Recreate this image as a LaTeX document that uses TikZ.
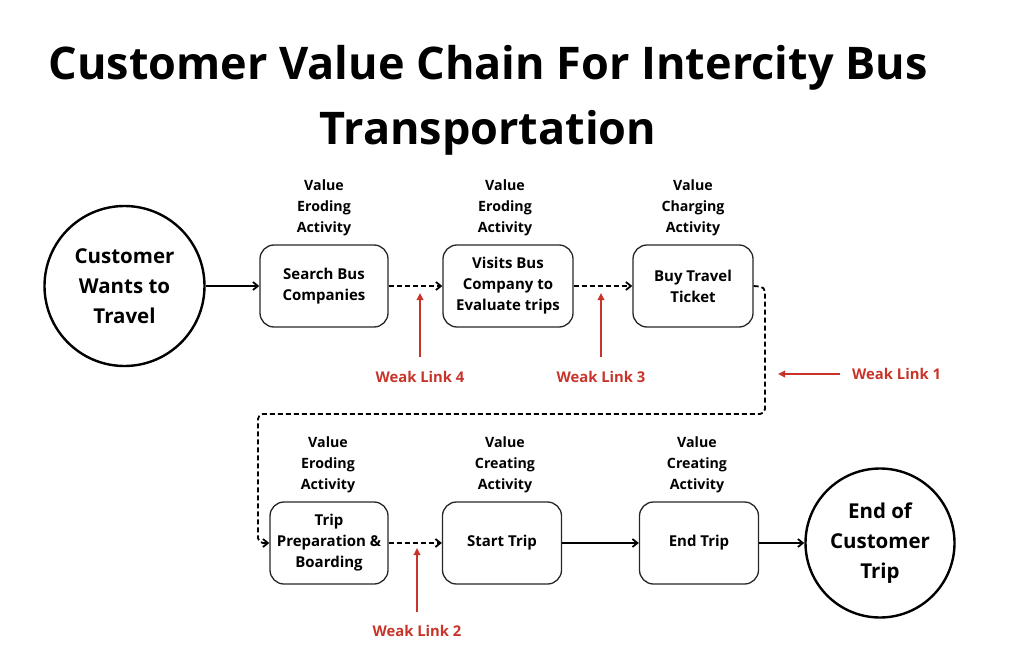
\documentclass[tikz,border=0pt]{standalone}
\usepackage{fontspec}
\setmainfont{Open Sans}
\usetikzlibrary{arrows.meta,positioning}
\definecolor{wred}{RGB}{200,52,42}
\tikzset{
  x=1pt,y=-1pt,
  act/.style={draw=black!85,line width=1.3pt,rounded corners=14pt,align=center,font=\bfseries\fontsize{15}{21}\selectfont,inner sep=0pt},
  circ/.style={draw=black,line width=2.4pt,circle,align=center,font=\bfseries\fontsize{20.5}{30}\selectfont,inner sep=0pt},
  lab/.style={align=center,font=\bfseries\fontsize{14.2}{21}\selectfont,inner sep=0pt},
  weak/.style={text=wred,font=\bfseries\fontsize{14.8}{17}\selectfont,inner sep=0pt},
  flow/.style={line width=1.8pt,-{Straight Barb[length=5pt,width=8pt]}},
  dflow/.style={flow,dash pattern=on 5pt off 3pt},
  warr/.style={wred,line width=1.8pt,-{Triangle[length=7pt,width=6.5pt]}}
}
\begin{document}
\begin{tikzpicture}
\useasboundingbox (0,0) rectangle (1024,647);
% title
\node[font=\bfseries\fontsize{45}{50}\selectfont,inner sep=0pt] (t1) at (488,68) {Customer Value Chain For Intercity Bus};
\node[font=\bfseries\fontsize{45}{50}\selectfont,inner sep=0pt] (t2) at (488,133) {Transportation};
% circles
\node[circ,minimum size=160pt] (c1) at (124.5,286) {Customer\\Wants to\\Travel};
\node[circ,minimum size=149pt] (c2) at (880,543) {End of\\Customer\\Trip};
% top row
\node[act,minimum width=128pt,minimum height=82pt] (b1) at (324,286) {Search Bus\\Companies};
\node[act,minimum width=130pt,minimum height=82pt] (b2) at (508,286) {Visits Bus\\Company to\\Evaluate trips};
\node[act,minimum width=120pt,minimum height=82pt] (b3) at (693,286) {Buy Travel\\Ticket};
% bottom row
\node[act,minimum width=118pt,minimum height=82pt] (b4) at (329,543) {Trip\\Preparation \&\\Boarding};
\node[act,minimum width=119pt,minimum height=82pt] (b5) at (502,543) {Start Trip};
\node[act,minimum width=119pt,minimum height=82pt] (b6) at (699,543) {End Trip};
% labels
\node[lab] (l1) at (324,208) {Value\\Eroding\\Activity};
\node[lab] (l2) at (505,208) {Value\\Eroding\\Activity};
\node[lab] (l3) at (693,208) {Value\\Charging\\Activity};
\node[lab] (l4) at (328,465) {Value\\Eroding\\Activity};
\node[lab] (l5) at (505,465) {Value\\Creating\\Activity};
\node[lab] (l6) at (697,465) {Value\\Creating\\Activity};
% connectors
\draw[flow] (c1.east) -- (b1.west);
\draw[dflow] (b1.east) -- (b2.west);
\draw[dflow] (b2.east) -- (b3.west);
\coordinate (p1) at (765,287);
\coordinate (p2) at (765,414);
\coordinate (p3) at (258,414);
\coordinate (p4) at (258,543);
\draw[dflow,rounded corners=5pt] (b3.east) -- (p1) -- (p2) -- (p3) -- (p4) -- (b4.west);
\draw[dflow] (b4.east) -- (b5.west);
\draw[flow] (b5.east) -- (b6.west);
\draw[flow] (b6.east) -- (c2.west);
% weak links
\node[weak] (w4) at (420,377) {Weak Link 4};
\node[weak] (w3) at (601,377) {Weak Link 3};
\node[weak,anchor=west] (w1) at (852,374) {Weak Link 1};
\node[weak] (w2) at (417,631) {Weak Link 2};
\coordinate (a4) at (420,293);
\coordinate (a3) at (601,293);
\coordinate (a1) at (778,374);
\coordinate (a2) at (417,548);
\draw[warr] (420,357) -- (a4);
\draw[warr] (601,357) -- (a3);
\draw[warr] (840,374) -- (a1);
\draw[warr] (417,612) -- (a2);
\end{tikzpicture}
\end{document}
